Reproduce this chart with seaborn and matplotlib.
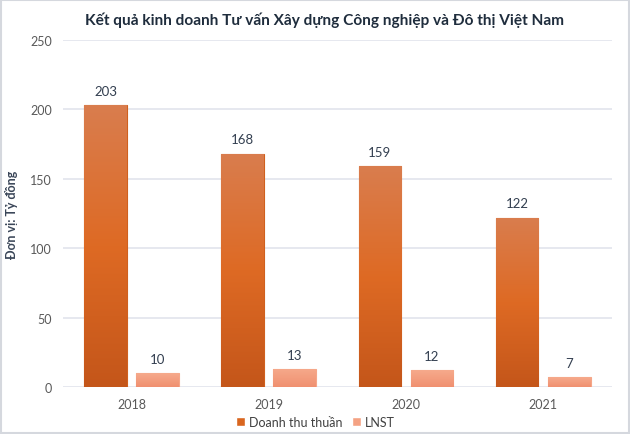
import numpy as np
import pandas as pd
import matplotlib
matplotlib.use("Agg")
import matplotlib.pyplot as plt
import seaborn as sns
from matplotlib.colors import LinearSegmentedColormap
from matplotlib.patches import Rectangle

# data
years = ["2018", "2019", "2020", "2021"]
doanh_thu = [203, 168, 159, 122]
lnst = [10, 13, 12, 7]
series = ["Doanh thu thuần", "LNST"]

df = pd.DataFrame({
    "Năm": years * 2,
    "Giá trị": doanh_thu + lnst,
    "Chỉ tiêu": [series[0]] * 4 + [series[1]] * 4,
})

sns.set_theme(style="white")
plt.rcParams["font.family"] = ["Lato", "DejaVu Sans"]

fig = plt.figure(figsize=(6.3, 4.35), dpi=100)
ax = fig.add_axes([0.1, 0.108, 0.871, 0.798])

palette = {series[0]: "#D9661F", series[1]: "#F4A283"}
sns.barplot(data=df, x="Năm", y="Giá trị", hue="Chỉ tiêu", palette=palette,
            width=0.76, gap=0.18, ax=ax, saturation=1, legend=True)

# gradient fill for the bars (top lighter, bottom darker)
grads = {
    series[0]: LinearSegmentedColormap.from_list("dt", ["#C4561A", "#DE6A24", "#D97D4E"]),
    series[1]: LinearSegmentedColormap.from_list("ln", ["#F09070", "#F6AA8C"]),
}
edges = {series[0]: "#D0601E", series[1]: "#F5A689"}
grad = np.linspace(0, 1, 256).reshape(-1, 1)
for cont, name in zip(ax.containers, series):
    for p in cont.patches:
        x0, y0 = p.get_x(), p.get_y()
        w, h = p.get_width(), p.get_height()
        p.set_edgecolor(edges[name])
        p.set_linewidth(0.8)
        im = ax.imshow(grad, extent=[x0, x0 + w, y0, y0 + h], origin="lower",
                       cmap=grads[name], aspect="auto", zorder=p.get_zorder())
        im.set_clip_path(p)
    ax.bar_label(cont, padding=6, fontsize=9.5, color="#333F50")

ax.set_xlim(-0.5, 3.5)
ax.set_ylim(0, 250)
ax.set_yticks([0, 50, 100, 150, 200, 250])
ax.yaxis.grid(True, color="#E1E4EC", linewidth=1.2)
ax.set_axisbelow(True)
for s in ax.spines.values():
    s.set_visible(False)
ax.tick_params(axis="both", length=0, labelsize=9, labelcolor="#595959")
ax.tick_params(axis="x", pad=8)
ax.tick_params(axis="y", pad=8)
ax.set_xlabel("")
ax.set_ylabel("Đơn vị: Tỷ đồng", fontsize=9, fontweight="bold", color="#3A4658", labelpad=9)

ax.legend(loc="center", bbox_to_anchor=(0.46, -0.1), ncol=2, frameon=False,
          fontsize=9, handlelength=0.7, handleheight=0.7, handletextpad=0.3,
          columnspacing=0.8, labelcolor="#404040")

fig.suptitle("Kết quả kinh doanh Tư vấn Xây dựng Công nghiệp và Đô thị Việt Nam",
             x=0.515, y=0.953, va="center", fontsize=11.1, fontweight="bold", color="#1F2D3D")

fig.patches.append(Rectangle((0.002, 0.003), 0.996, 0.994, transform=fig.transFigure,
                             fill=False, edgecolor="#D5D8DE", linewidth=1.5))

fig.savefig("out.png", dpi=100)
